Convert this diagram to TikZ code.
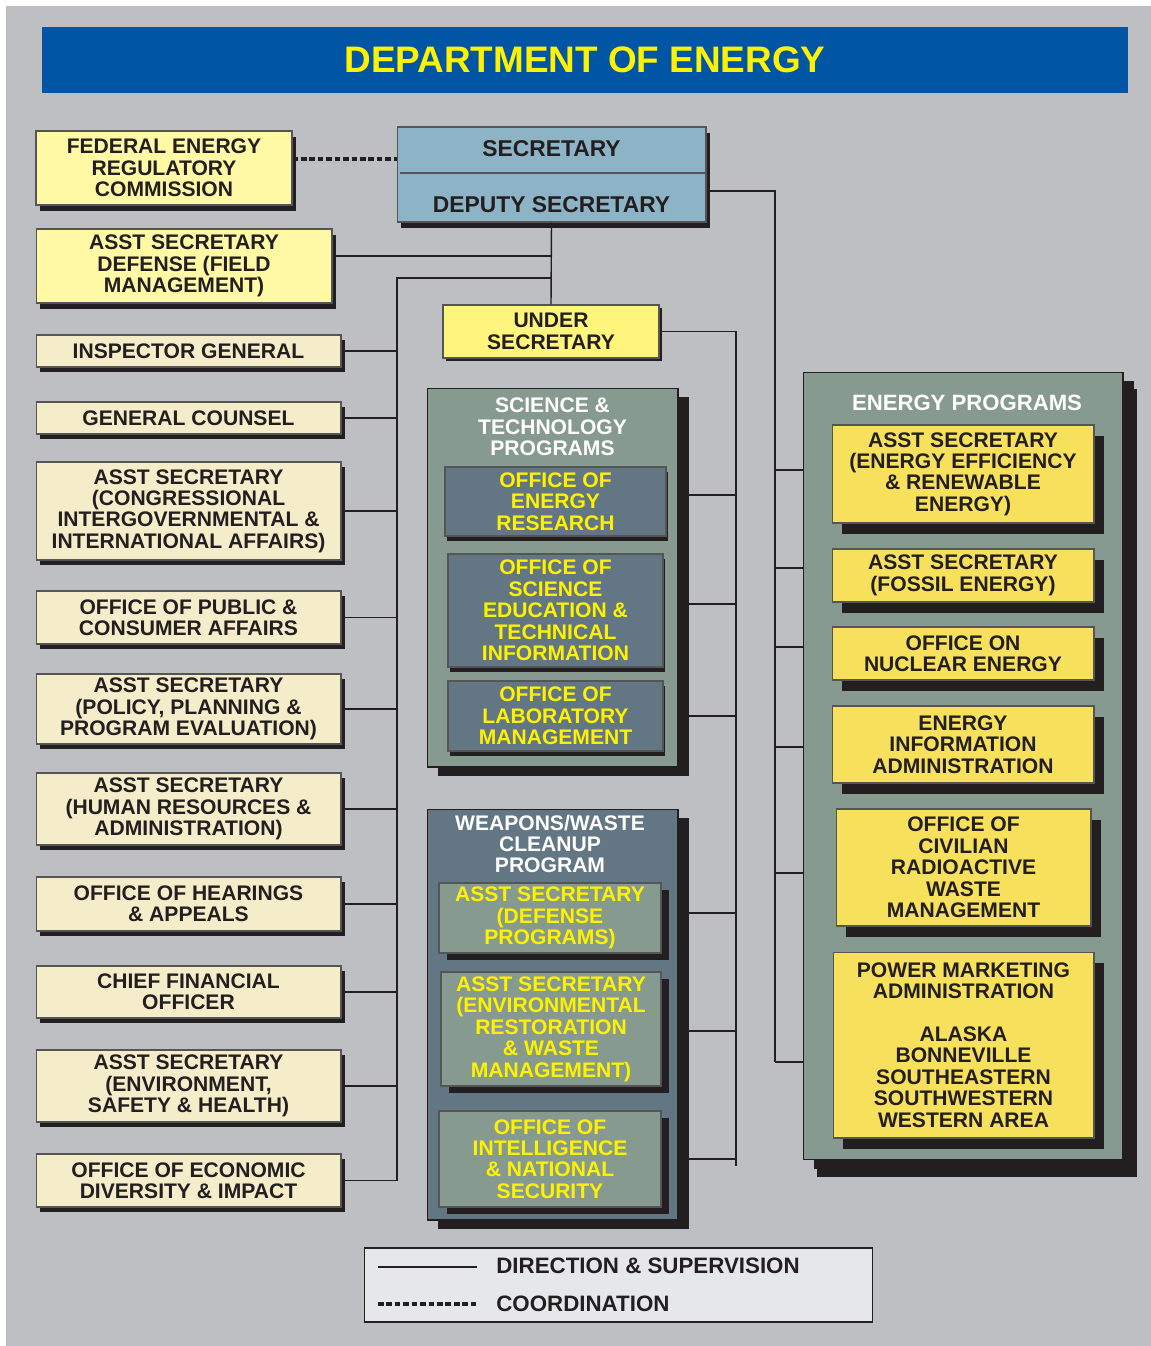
\documentclass[tikz,border=0pt]{standalone}
\usepackage{fontspec}
\setmainfont{Liberation Sans}
\usetikzlibrary{shadows}
\definecolor{bggray}{HTML}{BEBFC3}
\definecolor{doeblue}{HTML}{0055A5}
\definecolor{doeyellow}{HTML}{FFF200}
\definecolor{ink}{HTML}{231F20}
\definecolor{boxline}{HTML}{555555}
\definecolor{cream}{HTML}{F5EDC9}
\definecolor{paleyel}{HTML}{FFF9A6}
\definecolor{undyel}{HTML}{FFF57D}
\definecolor{epyel}{HTML}{F7E05C}
\definecolor{secblue}{HTML}{8DB3C7}
\definecolor{sage}{HTML}{879A8F}
\definecolor{slate}{HTML}{627683}
\definecolor{keygray}{HTML}{E6E7E9}
\tikzset{
  shad/.style 2 args = {drop shadow={shadow xshift=#1cm, shadow yshift=-#2cm,
    opacity=1, fill=ink}},
  boxsize/.style 2 args = {minimum width=#1cm, minimum height=#2cm},
  orgbox/.style = {rectangle, draw=boxline, line width=0.6pt, align=center,
    inner sep=0pt, text=ink, font=\bfseries\fontsize{12}{12.2}\selectfont},
  box_cream/.style = {orgbox, fill=cream, shad={0.08}{0.1}},% bureaux de gauche
  box_pale/.style = {orgbox, fill=paleyel, shad={0.08}{0.12}},% FERC, defense field
  box_under/.style = {orgbox, fill=undyel, shad={0.06}{0.06}},% sous-secretaire
  box_sec/.style = {orgbox, fill=secblue, shad={0.08}{0.12}},% secretaire
  box_ep/.style = {orgbox, fill=epyel, shad={0.2}{0.22}},% programmes energie
  box_st/.style = {orgbox, fill=slate, text=doeyellow, shad={0.04}{0.1}},% science
  box_ww/.style = {orgbox, fill=sage, text=doeyellow, shad={0.16}{0.14}},% armes/dechets
  grp_sage/.style = {orgbox, draw=ink, fill=sage, shad={0.22}{0.18}},
  grp_slate/.style = {orgbox, draw=ink, fill=slate, shad={0.22}{0.18}},
  grptitle/.style = {align=center, inner sep=0pt, text=white,
    font=\bfseries\fontsize{12}{12.2}\selectfont},
  sectext/.style = {inner sep=0pt, text=ink, font=\bfseries\fontsize{13}{15}\selectfont},
  keytext/.style = {inner sep=0pt, text=ink, font=\bfseries\fontsize{12.7}{15}\selectfont},
  dirline/.style = {draw=ink, line width=0.8pt},
  coordline/.style = {draw=ink, line width=1.8pt, dash pattern=on 3.2pt off 1.6pt}
}

\begin{document}
\begin{tikzpicture}[x=0.02cm, y=-0.02cm]
    \useasboundingbox (0,0) rectangle (1151,1346);
    \fill[bggray] (6,6) rectangle (1151,1346);

    \node[rectangle, fill=doeblue, text=doeyellow, boxsize={21.72}{1.32},
      font=\bfseries\fontsize{21}{24}\selectfont] (doe) at (585,60) {DEPARTMENT OF ENERGY};

    % secretary and under secretary
    \node[box_sec, boxsize={6.18}{1.9}] (sec) at (551.5,174.5) {};
    \coordinate (divL) at (400,173);
    \coordinate (divR) at (705,173);
    \draw[boxline, line width=0.8pt] (divL) -- (divR);
    \node[sectext] (secT) at (551.5,149) {SECRETARY};
    \node[sectext] (depT) at (551.5,205) {DEPUTY SECRETARY};
    \node[box_under, boxsize={4.32}{1.06}] (under) at (551,331.5) {UNDER\\SECRETARY};

    % left column
    \node[box_pale, boxsize={5.12}{1.48}] (ferc) at (164,168) {FEDERAL ENERGY\\REGULATORY\\COMMISSION};
    \node[box_pale, boxsize={5.92}{1.48}] (asdf) at (184,266) {ASST SECRETARY\\DEFENSE (FIELD\\MANAGEMENT)};
    \node[box_cream, boxsize={6.1}{0.64}] (ig) at (188.5,351) {INSPECTOR GENERAL};
    \node[box_cream, boxsize={6.1}{0.64}] (gc) at (188.5,418) {GENERAL COUNSEL};
    \node[box_cream, boxsize={6.1}{1.96}] (cong) at (188.5,511) {ASST SECRETARY\\(CONGRESSIONAL\\INTERGOVERNMENTAL \&\\INTERNATIONAL AFFAIRS)};
    \node[box_cream, boxsize={6.1}{1.06}] (pub) at (188.5,617.5) {OFFICE OF PUBLIC \&\\CONSUMER AFFAIRS};
    \node[box_cream, boxsize={6.1}{1.4}] (pol) at (188.5,709) {ASST SECRETARY\\(POLICY, PLANNING \&\\PROGRAM EVALUATION)};
    \node[box_cream, boxsize={6.1}{1.44}] (hr) at (188.5,809) {ASST SECRETARY\\(HUMAN RESOURCES \&\\ADMINISTRATION)};
    \node[box_cream, boxsize={6.1}{1.08}] (hear) at (188.5,904) {OFFICE OF HEARINGS\\\& APPEALS};
    \node[box_cream, boxsize={6.1}{1.04}] (cfo) at (188.5,992) {CHIEF FINANCIAL\\OFFICER};
    \node[box_cream, boxsize={6.1}{1.44}] (esh) at (188.5,1086) {ASST SECRETARY\\(ENVIRONMENT,\\SAFETY \& HEALTH)};
    \node[box_cream, boxsize={6.1}{1.06}] (econ) at (188.5,1180.5) {OFFICE OF ECONOMIC\\DIVERSITY \& IMPACT};

    % science & technology programs
    \node[grp_sage, boxsize={5.02}{7.58}] (st) at (552.5,577.5) {};
    \node[grptitle] (stT) at (552.5,427) {SCIENCE \&\\TECHNOLOGY\\PROGRAMS};
    \node[box_st, boxsize={4.42}{1.38}] (oer) at (555.5,501.5) {OFFICE OF\\ENERGY\\RESEARCH};
    \node[box_st, boxsize={4.3}{2.26}] (sed) at (555.5,610.5) {OFFICE OF\\SCIENCE\\EDUCATION \&\\TECHNICAL\\INFORMATION};
    \node[box_st, boxsize={4.3}{1.4}] (lab) at (555.5,716) {OFFICE OF\\LABORATORY\\MANAGEMENT};

    % weapons / waste cleanup
    \node[grp_slate, boxsize={5.02}{8.22}] (ww) at (552.5,1014.5) {};
    \node[grptitle] (wwT) at (550,844) {WEAPONS/WASTE\\CLEANUP\\PROGRAM};
    \node[box_ww, boxsize={4.44}{1.4}] (dp) at (550,918) {ASST SECRETARY\\(DEFENSE\\PROGRAMS)};
    \node[box_ww, boxsize={4.4}{2.28}] (erwm) at (551,1029) {ASST SECRETARY\\(ENVIRONMENTAL\\RESTORATION\\\& WASTE\\MANAGEMENT)};
    \node[box_ww, boxsize={4.44}{1.92}] (int) at (550,1159) {OFFICE OF\\INTELLIGENCE\\\& NATIONAL\\SECURITY};

    % energy programs
    \node[grp_sage, boxsize={6.4}{15.76}, shad={0.28}{0.34}] (ep) at (963,766) {};
    \node[grptitle, font=\bfseries\fontsize{12.6}{14}\selectfont] (epT) at (967,402.5) {ENERGY PROGRAMS};
    \node[box_ep, boxsize={5.24}{1.96}] (eere) at (963,474) {ASST SECRETARY\\(ENERGY EFFICIENCY\\\& RENEWABLE\\ENERGY)};
    \node[box_ep, boxsize={5.24}{1.06}] (fe) at (963,575.5) {ASST SECRETARY\\(FOSSIL ENERGY)};
    \node[box_ep, boxsize={5.24}{1.06}] (ne) at (963,653.5) {OFFICE ON\\NUCLEAR ENERGY};
    \node[box_ep, boxsize={5.24}{1.54}] (eia) at (963,744.5) {ENERGY\\INFORMATION\\ADMINISTRATION};
    \node[box_ep, boxsize={5.1}{2.34}] (crwm) at (963.5,867.5) {OFFICE OF\\CIVILIAN\\RADIOACTIVE\\WASTE\\MANAGEMENT};
    \node[box_ep, boxsize={5.22}{3.72}] (pma) at (963.5,1045) {POWER MARKETING\\ADMINISTRATION\\[12.2pt]ALASKA\\BONNEVILLE\\SOUTHEASTERN\\SOUTHWESTERN\\WESTERN AREA};

    % connectors
    \coordinate (lt) at (397,278);
    \coordinate (ut) at (736,331);
    \coordinate (rt) at (775,191);
    \draw[coordline] ([yshift=0.18cm]ferc.east) -- ([yshift=0.18cm]ferc.east -| sec.west);
    \draw[dirline] (sec.south) -- (under.north);
    \draw[dirline] ([yshift=0.2cm]asdf.east) -- ([yshift=0.2cm]asdf.east -| sec.south);
    \draw[dirline] (lt -| sec.south) -- (lt) |- (econ.east);
    \foreach \n in {ig,gc,cong,pub,pol,hr,hear,cfo,esh}
      \draw[dirline] (\n.east) -- (\n.east -| lt);
    \draw[dirline] (under.east) -| ([yshift=-0.14cm]ut |- int.east);
    \foreach \n/\s in {oer/0.13,sed/0.13,lab/0,dp/0.1,erwm/-0.04,int/0}
      \draw[dirline] ([yshift=\s cm]\n.east -| st.east) -- ([yshift=\s cm]\n.east -| ut);
    \draw[dirline] ([yshift=-0.33cm]sec.east) -| ([yshift=-0.34cm]rt |- pma.west);
    \foreach \n/\s in {eere/0.08,fe/0.15,ne/0.13,eia/-0.05,crwm/-0.11,pma/-0.34}
      \draw[dirline] ([yshift=\s cm]\n.west -| rt) -- ([yshift=\s cm]\n.west -| ep.west);

    % legend
    \node[rectangle, draw=ink, line width=0.6pt, fill=keygray, boxsize={10.18}{1.48}] (key) at (618.5,1285) {};
    \coordinate (k1a) at (378,1267);
    \coordinate (k1b) at (477,1267);
    \coordinate (k2a) at (378,1304);
    \coordinate (k2b) at (477,1304);
    \draw[dirline] (k1a) -- (k1b);
    \draw[coordline] (k2a) -- (k2b);
    \node[keytext, anchor=west] (kDir) at (496,1266) {DIRECTION \& SUPERVISION};
    \node[keytext, anchor=west] (kCo) at (496,1304) {COORDINATION};
\end{tikzpicture}
\end{document}
